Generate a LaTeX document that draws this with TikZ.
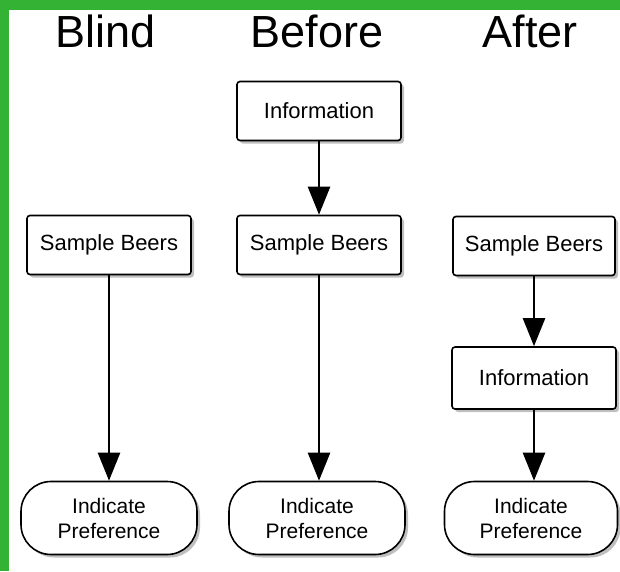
\documentclass[tikz,border=0pt]{standalone}
\usepackage{fontspec}
\setmainfont{Liberation Sans}
\usepackage{tikz}
\usetikzlibrary{arrows.meta,shadows}
\definecolor{framegreen}{RGB}{52,178,52}
\tikzstyle{node:title}=[anchor=base,font=\fontsize{45}{50}\selectfont]
\tikzstyle{node:step}=[rectangle,draw,line width=1.6pt,rounded corners=3pt,fill=white,minimum width=164pt,minimum height=59pt,font=\fontsize{22}{26}\selectfont,drop shadow={shadow xshift=3pt,shadow yshift=-3pt,opacity=0.5}]
\tikzstyle{node:end}=[rectangle,draw,line width=1.6pt,rounded corners=30pt,fill=white,minimum width=176pt,minimum height=73pt,align=center,font=\fontsize{21}{25}\selectfont,drop shadow={shadow xshift=3pt,shadow yshift=-3pt,opacity=0.5}]
\tikzstyle{draw:flow}=[-{Triangle[width=22pt,length=28pt]},line width=2.4pt]

\begin{document}
\begin{tikzpicture}[x=1pt,y=-1pt]
        \useasboundingbox (0,0) rectangle (620,571);
        % frame
        \fill[framegreen] (0,0) rectangle (620,10);
        \fill[framegreen] (0,0) rectangle (9,571);

        % Column titles
        \node[node:title] (T1) at (106,47) {Blind};
        \node[node:title] (T2) at (317,47) {Before};
        \node[node:title] (T3) at (530,47) {After};

        % Blind
        \node[node:step] (B-1) at (109,245) {Sample Beers};
        \node[node:end] (B-2) at (109,518) {Indicate\\Preference};

        % Before
        \node[node:step] (F-1) at (319,111) {Information};
        \node[node:step] (F-2) at (319,245) {Sample Beers};
        \node[node:end] (F-3) at (317,518) {Indicate\\Preference};

        % After
        \node[node:step,minimum width=162pt] (A-1) at (534,246) {Sample Beers};
        \node[node:step,minimum width=164pt,minimum height=62pt] (A-2) at (534,378) {Information};
        \node[node:end,minimum width=173pt] (A-3) at (531,518) {Indicate\\Preference};

        % flow
        \draw[draw:flow] (B-1) -- (B-1 |- B-2.north);
        \draw[draw:flow] (F-1) -- (F-2);
        \draw[draw:flow] (F-2) -- (F-2 |- F-3.north);
        \draw[draw:flow] (A-1) -- (A-2);
        \draw[draw:flow] (A-2) -- (A-2 |- A-3.north);

    \end{tikzpicture}
\end{document}
